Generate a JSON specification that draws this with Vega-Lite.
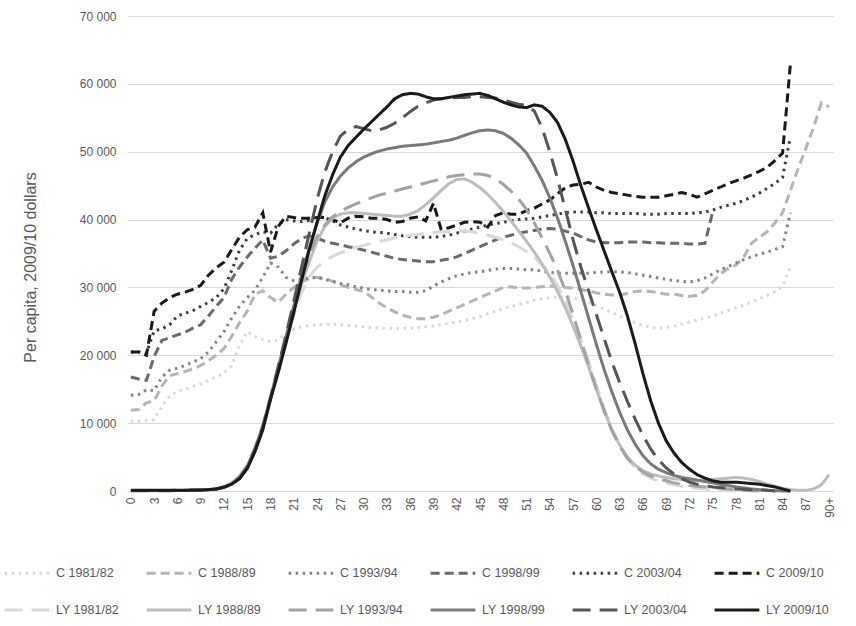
{
"$schema": "https://vega.github.io/schema/vega-lite/v6.json",
"width": 706, "height": 475,
"autosize": {"type": "none"},
"padding": {"left": 127, "top": 16, "right": 23, "bottom": 135},
"background": "white",
"config": {"view": {"stroke": null}, "font": "Liberation Sans"},
"data": {"values": [
{"s":"C 1981/82","a":0,"v":10300},{"s":"C 1981/82","a":1,"v":10300},{"s":"C 1981/82","a":2,"v":10400},{"s":"C 1981/82","a":3,"v":10500},{"s":"C 1981/82","a":4,"v":12500},{"s":"C 1981/82","a":5,"v":14000},{"s":"C 1981/82","a":6,"v":14700},{"s":"C 1981/82","a":7,"v":15000},{"s":"C 1981/82","a":8,"v":15400},{"s":"C 1981/82","a":9,"v":15800},
{"s":"C 1981/82","a":10,"v":16300},{"s":"C 1981/82","a":11,"v":16800},{"s":"C 1981/82","a":12,"v":17400},{"s":"C 1981/82","a":13,"v":18500},{"s":"C 1981/82","a":14,"v":21500},{"s":"C 1981/82","a":15,"v":23500},{"s":"C 1981/82","a":16,"v":22800},{"s":"C 1981/82","a":17,"v":22300},{"s":"C 1981/82","a":18,"v":22000},{"s":"C 1981/82","a":19,"v":22300},
{"s":"C 1981/82","a":20,"v":23200},{"s":"C 1981/82","a":21,"v":23800},{"s":"C 1981/82","a":22,"v":24200},{"s":"C 1981/82","a":23,"v":24400},{"s":"C 1981/82","a":24,"v":24500},{"s":"C 1981/82","a":25,"v":24500},{"s":"C 1981/82","a":26,"v":24600},{"s":"C 1981/82","a":27,"v":24500},{"s":"C 1981/82","a":28,"v":24400},{"s":"C 1981/82","a":29,"v":24300},
{"s":"C 1981/82","a":30,"v":24200},{"s":"C 1981/82","a":31,"v":24100},{"s":"C 1981/82","a":32,"v":24000},{"s":"C 1981/82","a":33,"v":24000},{"s":"C 1981/82","a":34,"v":23900},{"s":"C 1981/82","a":35,"v":24000},{"s":"C 1981/82","a":36,"v":24000},{"s":"C 1981/82","a":37,"v":24100},{"s":"C 1981/82","a":38,"v":24200},{"s":"C 1981/82","a":39,"v":24300},
{"s":"C 1981/82","a":40,"v":24500},{"s":"C 1981/82","a":41,"v":24700},{"s":"C 1981/82","a":42,"v":24900},{"s":"C 1981/82","a":43,"v":25100},{"s":"C 1981/82","a":44,"v":25400},{"s":"C 1981/82","a":45,"v":25700},{"s":"C 1981/82","a":46,"v":26100},{"s":"C 1981/82","a":47,"v":26500},{"s":"C 1981/82","a":48,"v":26900},{"s":"C 1981/82","a":49,"v":27200},
{"s":"C 1981/82","a":50,"v":27500},{"s":"C 1981/82","a":51,"v":27800},{"s":"C 1981/82","a":52,"v":28100},{"s":"C 1981/82","a":53,"v":28300},{"s":"C 1981/82","a":54,"v":28500},{"s":"C 1981/82","a":55,"v":28600},{"s":"C 1981/82","a":56,"v":28600},{"s":"C 1981/82","a":57,"v":28500},{"s":"C 1981/82","a":58,"v":28200},{"s":"C 1981/82","a":59,"v":27800},
{"s":"C 1981/82","a":60,"v":27300},{"s":"C 1981/82","a":61,"v":26800},{"s":"C 1981/82","a":62,"v":26300},{"s":"C 1981/82","a":63,"v":25800},{"s":"C 1981/82","a":64,"v":25300},{"s":"C 1981/82","a":65,"v":24800},{"s":"C 1981/82","a":66,"v":24400},{"s":"C 1981/82","a":67,"v":24100},{"s":"C 1981/82","a":68,"v":24000},{"s":"C 1981/82","a":69,"v":24100},
{"s":"C 1981/82","a":70,"v":24300},{"s":"C 1981/82","a":71,"v":24600},{"s":"C 1981/82","a":72,"v":24900},{"s":"C 1981/82","a":73,"v":25200},{"s":"C 1981/82","a":74,"v":25500},{"s":"C 1981/82","a":75,"v":25800},{"s":"C 1981/82","a":76,"v":26200},{"s":"C 1981/82","a":77,"v":26600},{"s":"C 1981/82","a":78,"v":27000},{"s":"C 1981/82","a":79,"v":27400},
{"s":"C 1981/82","a":80,"v":27900},{"s":"C 1981/82","a":81,"v":28300},{"s":"C 1981/82","a":82,"v":28800},{"s":"C 1981/82","a":83,"v":29400},{"s":"C 1981/82","a":84,"v":30200},{"s":"C 1981/82","a":85,"v":33000},
{"s":"C 1988/89","a":0,"v":11900},{"s":"C 1988/89","a":1,"v":12000},{"s":"C 1988/89","a":2,"v":13000},{"s":"C 1988/89","a":3,"v":13300},{"s":"C 1988/89","a":4,"v":15500},{"s":"C 1988/89","a":5,"v":17000},{"s":"C 1988/89","a":6,"v":17300},{"s":"C 1988/89","a":7,"v":17600},{"s":"C 1988/89","a":8,"v":18000},{"s":"C 1988/89","a":9,"v":18500},
{"s":"C 1988/89","a":10,"v":19200},{"s":"C 1988/89","a":11,"v":20000},{"s":"C 1988/89","a":12,"v":21000},{"s":"C 1988/89","a":13,"v":22800},{"s":"C 1988/89","a":14,"v":24800},{"s":"C 1988/89","a":15,"v":26500},{"s":"C 1988/89","a":16,"v":29000},{"s":"C 1988/89","a":17,"v":29500},{"s":"C 1988/89","a":18,"v":28500},{"s":"C 1988/89","a":19,"v":27800},
{"s":"C 1988/89","a":20,"v":29000},{"s":"C 1988/89","a":21,"v":30000},{"s":"C 1988/89","a":22,"v":30800},{"s":"C 1988/89","a":23,"v":31300},{"s":"C 1988/89","a":24,"v":31500},{"s":"C 1988/89","a":25,"v":31300},{"s":"C 1988/89","a":26,"v":30900},{"s":"C 1988/89","a":27,"v":30400},{"s":"C 1988/89","a":28,"v":30000},{"s":"C 1988/89","a":29,"v":29700},
{"s":"C 1988/89","a":30,"v":29400},{"s":"C 1988/89","a":31,"v":28600},{"s":"C 1988/89","a":32,"v":27700},{"s":"C 1988/89","a":33,"v":27000},{"s":"C 1988/89","a":34,"v":26400},{"s":"C 1988/89","a":35,"v":25900},{"s":"C 1988/89","a":36,"v":25600},{"s":"C 1988/89","a":37,"v":25400},{"s":"C 1988/89","a":38,"v":25400},{"s":"C 1988/89","a":39,"v":25600},
{"s":"C 1988/89","a":40,"v":26000},{"s":"C 1988/89","a":41,"v":26500},{"s":"C 1988/89","a":42,"v":27000},{"s":"C 1988/89","a":43,"v":27500},{"s":"C 1988/89","a":44,"v":28000},{"s":"C 1988/89","a":45,"v":28500},{"s":"C 1988/89","a":46,"v":29000},{"s":"C 1988/89","a":47,"v":29500},{"s":"C 1988/89","a":48,"v":30000},{"s":"C 1988/89","a":49,"v":30100},
{"s":"C 1988/89","a":50,"v":29900},{"s":"C 1988/89","a":51,"v":29900},{"s":"C 1988/89","a":52,"v":30000},{"s":"C 1988/89","a":53,"v":30100},{"s":"C 1988/89","a":54,"v":30200},{"s":"C 1988/89","a":55,"v":30100},{"s":"C 1988/89","a":56,"v":30000},{"s":"C 1988/89","a":57,"v":29900},{"s":"C 1988/89","a":58,"v":29700},{"s":"C 1988/89","a":59,"v":29500},
{"s":"C 1988/89","a":60,"v":29200},{"s":"C 1988/89","a":61,"v":29000},{"s":"C 1988/89","a":62,"v":28900},{"s":"C 1988/89","a":63,"v":28900},{"s":"C 1988/89","a":64,"v":29100},{"s":"C 1988/89","a":65,"v":29400},{"s":"C 1988/89","a":66,"v":29500},{"s":"C 1988/89","a":67,"v":29400},{"s":"C 1988/89","a":68,"v":29200},{"s":"C 1988/89","a":69,"v":29000},
{"s":"C 1988/89","a":70,"v":29000},{"s":"C 1988/89","a":71,"v":28800},{"s":"C 1988/89","a":72,"v":28700},{"s":"C 1988/89","a":73,"v":28800},{"s":"C 1988/89","a":74,"v":29500},{"s":"C 1988/89","a":75,"v":30800},{"s":"C 1988/89","a":76,"v":32000},{"s":"C 1988/89","a":77,"v":32800},{"s":"C 1988/89","a":78,"v":33300},{"s":"C 1988/89","a":79,"v":34500},
{"s":"C 1988/89","a":80,"v":36500},{"s":"C 1988/89","a":81,"v":37400},{"s":"C 1988/89","a":82,"v":38200},{"s":"C 1988/89","a":83,"v":39500},{"s":"C 1988/89","a":84,"v":41000},{"s":"C 1988/89","a":85,"v":44300},{"s":"C 1988/89","a":86,"v":47500},{"s":"C 1988/89","a":87,"v":50500},{"s":"C 1988/89","a":88,"v":53600},{"s":"C 1988/89","a":89,"v":57200},{"s":"C 1988/89","a":90,"v":56600},
{"s":"C 1993/94","a":0,"v":14100},{"s":"C 1993/94","a":1,"v":14200},{"s":"C 1993/94","a":2,"v":14900},{"s":"C 1993/94","a":3,"v":14800},{"s":"C 1993/94","a":4,"v":16800},{"s":"C 1993/94","a":5,"v":17800},{"s":"C 1993/94","a":6,"v":18100},{"s":"C 1993/94","a":7,"v":18500},{"s":"C 1993/94","a":8,"v":19000},{"s":"C 1993/94","a":9,"v":19500},
{"s":"C 1993/94","a":10,"v":20500},{"s":"C 1993/94","a":11,"v":22000},{"s":"C 1993/94","a":12,"v":23500},{"s":"C 1993/94","a":13,"v":25500},{"s":"C 1993/94","a":14,"v":27200},{"s":"C 1993/94","a":15,"v":28500},{"s":"C 1993/94","a":16,"v":29600},{"s":"C 1993/94","a":17,"v":31500},{"s":"C 1993/94","a":18,"v":33600},{"s":"C 1993/94","a":19,"v":33000},
{"s":"C 1993/94","a":20,"v":31500},{"s":"C 1993/94","a":21,"v":31000},{"s":"C 1993/94","a":22,"v":31200},{"s":"C 1993/94","a":23,"v":31400},{"s":"C 1993/94","a":24,"v":31500},{"s":"C 1993/94","a":25,"v":31200},{"s":"C 1993/94","a":26,"v":30900},{"s":"C 1993/94","a":27,"v":30600},{"s":"C 1993/94","a":28,"v":30400},{"s":"C 1993/94","a":29,"v":30100},
{"s":"C 1993/94","a":30,"v":29900},{"s":"C 1993/94","a":31,"v":29700},{"s":"C 1993/94","a":32,"v":29600},{"s":"C 1993/94","a":33,"v":29500},{"s":"C 1993/94","a":34,"v":29400},{"s":"C 1993/94","a":35,"v":29400},{"s":"C 1993/94","a":36,"v":29300},{"s":"C 1993/94","a":37,"v":29300},{"s":"C 1993/94","a":38,"v":29500},{"s":"C 1993/94","a":39,"v":30200},
{"s":"C 1993/94","a":40,"v":30800},{"s":"C 1993/94","a":41,"v":31300},{"s":"C 1993/94","a":42,"v":31700},{"s":"C 1993/94","a":43,"v":32000},{"s":"C 1993/94","a":44,"v":32200},{"s":"C 1993/94","a":45,"v":32300},{"s":"C 1993/94","a":46,"v":32500},{"s":"C 1993/94","a":47,"v":32700},{"s":"C 1993/94","a":48,"v":32800},{"s":"C 1993/94","a":49,"v":32800},
{"s":"C 1993/94","a":50,"v":32700},{"s":"C 1993/94","a":51,"v":32600},{"s":"C 1993/94","a":52,"v":32600},{"s":"C 1993/94","a":53,"v":32400},{"s":"C 1993/94","a":54,"v":32200},{"s":"C 1993/94","a":55,"v":32100},{"s":"C 1993/94","a":56,"v":32100},{"s":"C 1993/94","a":57,"v":32100},{"s":"C 1993/94","a":58,"v":32100},{"s":"C 1993/94","a":59,"v":32100},
{"s":"C 1993/94","a":60,"v":32200},{"s":"C 1993/94","a":61,"v":32300},{"s":"C 1993/94","a":62,"v":32300},{"s":"C 1993/94","a":63,"v":32300},{"s":"C 1993/94","a":64,"v":32200},{"s":"C 1993/94","a":65,"v":32000},{"s":"C 1993/94","a":66,"v":31800},{"s":"C 1993/94","a":67,"v":31600},{"s":"C 1993/94","a":68,"v":31400},{"s":"C 1993/94","a":69,"v":31200},
{"s":"C 1993/94","a":70,"v":31000},{"s":"C 1993/94","a":71,"v":30900},{"s":"C 1993/94","a":72,"v":30800},{"s":"C 1993/94","a":73,"v":31000},{"s":"C 1993/94","a":74,"v":31400},{"s":"C 1993/94","a":75,"v":32000},{"s":"C 1993/94","a":76,"v":32600},{"s":"C 1993/94","a":77,"v":33100},{"s":"C 1993/94","a":78,"v":33600},{"s":"C 1993/94","a":79,"v":34100},
{"s":"C 1993/94","a":80,"v":34500},{"s":"C 1993/94","a":81,"v":34900},{"s":"C 1993/94","a":82,"v":35200},{"s":"C 1993/94","a":83,"v":35600},{"s":"C 1993/94","a":84,"v":36000},{"s":"C 1993/94","a":85,"v":41000},
{"s":"C 1998/99","a":0,"v":16800},{"s":"C 1998/99","a":1,"v":16500},{"s":"C 1998/99","a":2,"v":16300},{"s":"C 1998/99","a":3,"v":19800},{"s":"C 1998/99","a":4,"v":22200},{"s":"C 1998/99","a":5,"v":22600},{"s":"C 1998/99","a":6,"v":23000},{"s":"C 1998/99","a":7,"v":23400},{"s":"C 1998/99","a":8,"v":24000},{"s":"C 1998/99","a":9,"v":24500},
{"s":"C 1998/99","a":10,"v":25800},{"s":"C 1998/99","a":11,"v":27200},{"s":"C 1998/99","a":12,"v":28500},{"s":"C 1998/99","a":13,"v":31200},{"s":"C 1998/99","a":14,"v":33000},{"s":"C 1998/99","a":15,"v":34500},{"s":"C 1998/99","a":16,"v":35800},{"s":"C 1998/99","a":17,"v":37000},{"s":"C 1998/99","a":18,"v":34300},{"s":"C 1998/99","a":19,"v":34600},
{"s":"C 1998/99","a":20,"v":35400},{"s":"C 1998/99","a":21,"v":36400},{"s":"C 1998/99","a":22,"v":37200},{"s":"C 1998/99","a":23,"v":37600},{"s":"C 1998/99","a":24,"v":37300},{"s":"C 1998/99","a":25,"v":36800},{"s":"C 1998/99","a":26,"v":36500},{"s":"C 1998/99","a":27,"v":36300},{"s":"C 1998/99","a":28,"v":36000},{"s":"C 1998/99","a":29,"v":35800},
{"s":"C 1998/99","a":30,"v":35500},{"s":"C 1998/99","a":31,"v":35200},{"s":"C 1998/99","a":32,"v":34900},{"s":"C 1998/99","a":33,"v":34600},{"s":"C 1998/99","a":34,"v":34300},{"s":"C 1998/99","a":35,"v":34100},{"s":"C 1998/99","a":36,"v":34000},{"s":"C 1998/99","a":37,"v":33900},{"s":"C 1998/99","a":38,"v":33800},{"s":"C 1998/99","a":39,"v":33800},
{"s":"C 1998/99","a":40,"v":34000},{"s":"C 1998/99","a":41,"v":34200},{"s":"C 1998/99","a":42,"v":34500},{"s":"C 1998/99","a":43,"v":35000},{"s":"C 1998/99","a":44,"v":35500},{"s":"C 1998/99","a":45,"v":36000},{"s":"C 1998/99","a":46,"v":36500},{"s":"C 1998/99","a":47,"v":37000},{"s":"C 1998/99","a":48,"v":37400},{"s":"C 1998/99","a":49,"v":37700},
{"s":"C 1998/99","a":50,"v":38000},{"s":"C 1998/99","a":51,"v":38200},{"s":"C 1998/99","a":52,"v":38400},{"s":"C 1998/99","a":53,"v":38600},{"s":"C 1998/99","a":54,"v":38700},{"s":"C 1998/99","a":55,"v":38600},{"s":"C 1998/99","a":56,"v":38300},{"s":"C 1998/99","a":57,"v":38000},{"s":"C 1998/99","a":58,"v":37500},{"s":"C 1998/99","a":59,"v":37000},
{"s":"C 1998/99","a":60,"v":36700},{"s":"C 1998/99","a":61,"v":36600},{"s":"C 1998/99","a":62,"v":36600},{"s":"C 1998/99","a":63,"v":36600},{"s":"C 1998/99","a":64,"v":36700},{"s":"C 1998/99","a":65,"v":36700},{"s":"C 1998/99","a":66,"v":36700},{"s":"C 1998/99","a":67,"v":36600},{"s":"C 1998/99","a":68,"v":36600},{"s":"C 1998/99","a":69,"v":36500},
{"s":"C 1998/99","a":70,"v":36500},{"s":"C 1998/99","a":71,"v":36500},{"s":"C 1998/99","a":72,"v":36400},{"s":"C 1998/99","a":73,"v":36400},{"s":"C 1998/99","a":74,"v":36500},{"s":"C 1998/99","a":75,"v":41200},
{"s":"C 2003/04","a":0,"v":20500},{"s":"C 2003/04","a":1,"v":20500},{"s":"C 2003/04","a":2,"v":20300},{"s":"C 2003/04","a":3,"v":23600},{"s":"C 2003/04","a":4,"v":23900},{"s":"C 2003/04","a":5,"v":24500},{"s":"C 2003/04","a":6,"v":25800},{"s":"C 2003/04","a":7,"v":26200},{"s":"C 2003/04","a":8,"v":26600},{"s":"C 2003/04","a":9,"v":27200},
{"s":"C 2003/04","a":10,"v":27800},{"s":"C 2003/04","a":11,"v":28500},{"s":"C 2003/04","a":12,"v":29800},{"s":"C 2003/04","a":13,"v":32500},{"s":"C 2003/04","a":14,"v":35500},{"s":"C 2003/04","a":15,"v":37200},{"s":"C 2003/04","a":16,"v":37800},{"s":"C 2003/04","a":17,"v":38200},{"s":"C 2003/04","a":18,"v":38000},{"s":"C 2003/04","a":19,"v":39300},
{"s":"C 2003/04","a":20,"v":40000},{"s":"C 2003/04","a":21,"v":39800},{"s":"C 2003/04","a":22,"v":39700},{"s":"C 2003/04","a":23,"v":39900},{"s":"C 2003/04","a":24,"v":40500},{"s":"C 2003/04","a":25,"v":40300},{"s":"C 2003/04","a":26,"v":39800},{"s":"C 2003/04","a":27,"v":39200},{"s":"C 2003/04","a":28,"v":38900},{"s":"C 2003/04","a":29,"v":38600},
{"s":"C 2003/04","a":30,"v":38400},{"s":"C 2003/04","a":31,"v":38200},{"s":"C 2003/04","a":32,"v":38100},{"s":"C 2003/04","a":33,"v":38000},{"s":"C 2003/04","a":34,"v":37800},{"s":"C 2003/04","a":35,"v":37600},{"s":"C 2003/04","a":36,"v":37500},{"s":"C 2003/04","a":37,"v":37400},{"s":"C 2003/04","a":38,"v":37400},{"s":"C 2003/04","a":39,"v":37400},
{"s":"C 2003/04","a":40,"v":37500},{"s":"C 2003/04","a":41,"v":37700},{"s":"C 2003/04","a":42,"v":38000},{"s":"C 2003/04","a":43,"v":38300},{"s":"C 2003/04","a":44,"v":38600},{"s":"C 2003/04","a":45,"v":38900},{"s":"C 2003/04","a":46,"v":39200},{"s":"C 2003/04","a":47,"v":39400},{"s":"C 2003/04","a":48,"v":39600},{"s":"C 2003/04","a":49,"v":39800},
{"s":"C 2003/04","a":50,"v":40000},{"s":"C 2003/04","a":51,"v":40100},{"s":"C 2003/04","a":52,"v":40200},{"s":"C 2003/04","a":53,"v":40400},{"s":"C 2003/04","a":54,"v":40600},{"s":"C 2003/04","a":55,"v":40800},{"s":"C 2003/04","a":56,"v":41000},{"s":"C 2003/04","a":57,"v":41100},{"s":"C 2003/04","a":58,"v":41100},{"s":"C 2003/04","a":59,"v":41100},
{"s":"C 2003/04","a":60,"v":41000},{"s":"C 2003/04","a":61,"v":41000},{"s":"C 2003/04","a":62,"v":40900},{"s":"C 2003/04","a":63,"v":40900},{"s":"C 2003/04","a":64,"v":40900},{"s":"C 2003/04","a":65,"v":40900},{"s":"C 2003/04","a":66,"v":40800},{"s":"C 2003/04","a":67,"v":40800},{"s":"C 2003/04","a":68,"v":40800},{"s":"C 2003/04","a":69,"v":40900},
{"s":"C 2003/04","a":70,"v":40900},{"s":"C 2003/04","a":71,"v":40900},{"s":"C 2003/04","a":72,"v":40900},{"s":"C 2003/04","a":73,"v":41000},{"s":"C 2003/04","a":74,"v":41100},{"s":"C 2003/04","a":75,"v":41400},{"s":"C 2003/04","a":76,"v":41800},{"s":"C 2003/04","a":77,"v":42100},{"s":"C 2003/04","a":78,"v":42400},{"s":"C 2003/04","a":79,"v":42800},
{"s":"C 2003/04","a":80,"v":43300},{"s":"C 2003/04","a":81,"v":43900},{"s":"C 2003/04","a":82,"v":44600},{"s":"C 2003/04","a":83,"v":45300},{"s":"C 2003/04","a":84,"v":46200},{"s":"C 2003/04","a":85,"v":52200},
{"s":"C 2009/10","a":0,"v":20500},{"s":"C 2009/10","a":1,"v":20500},{"s":"C 2009/10","a":2,"v":20000},{"s":"C 2009/10","a":3,"v":26500},{"s":"C 2009/10","a":4,"v":27700},{"s":"C 2009/10","a":5,"v":28500},{"s":"C 2009/10","a":6,"v":29000},{"s":"C 2009/10","a":7,"v":29300},{"s":"C 2009/10","a":8,"v":29700},{"s":"C 2009/10","a":9,"v":30300},
{"s":"C 2009/10","a":10,"v":31800},{"s":"C 2009/10","a":11,"v":32900},{"s":"C 2009/10","a":12,"v":33700},{"s":"C 2009/10","a":13,"v":35600},{"s":"C 2009/10","a":14,"v":37400},{"s":"C 2009/10","a":15,"v":38500},{"s":"C 2009/10","a":16,"v":38900},{"s":"C 2009/10","a":17,"v":41000},{"s":"C 2009/10","a":18,"v":35200},{"s":"C 2009/10","a":19,"v":39000},
{"s":"C 2009/10","a":20,"v":40500},{"s":"C 2009/10","a":21,"v":40300},{"s":"C 2009/10","a":22,"v":40200},{"s":"C 2009/10","a":23,"v":40200},{"s":"C 2009/10","a":24,"v":40300},{"s":"C 2009/10","a":25,"v":40300},{"s":"C 2009/10","a":26,"v":40000},{"s":"C 2009/10","a":27,"v":39500},{"s":"C 2009/10","a":28,"v":40200},{"s":"C 2009/10","a":29,"v":40500},
{"s":"C 2009/10","a":30,"v":40400},{"s":"C 2009/10","a":31,"v":40200},{"s":"C 2009/10","a":32,"v":40200},{"s":"C 2009/10","a":33,"v":40000},{"s":"C 2009/10","a":34,"v":39600},{"s":"C 2009/10","a":35,"v":39700},{"s":"C 2009/10","a":36,"v":40200},{"s":"C 2009/10","a":37,"v":40400},{"s":"C 2009/10","a":38,"v":39800},{"s":"C 2009/10","a":39,"v":42400},
{"s":"C 2009/10","a":40,"v":38500},{"s":"C 2009/10","a":41,"v":38800},{"s":"C 2009/10","a":42,"v":39200},{"s":"C 2009/10","a":43,"v":39600},{"s":"C 2009/10","a":44,"v":39700},{"s":"C 2009/10","a":45,"v":39600},{"s":"C 2009/10","a":46,"v":38900},{"s":"C 2009/10","a":47,"v":40600},{"s":"C 2009/10","a":48,"v":41000},{"s":"C 2009/10","a":49,"v":40800},
{"s":"C 2009/10","a":50,"v":40800},{"s":"C 2009/10","a":51,"v":41300},{"s":"C 2009/10","a":52,"v":41700},{"s":"C 2009/10","a":53,"v":42300},{"s":"C 2009/10","a":54,"v":42900},{"s":"C 2009/10","a":55,"v":43800},{"s":"C 2009/10","a":56,"v":44700},{"s":"C 2009/10","a":57,"v":45100},{"s":"C 2009/10","a":58,"v":45200},{"s":"C 2009/10","a":59,"v":45500},
{"s":"C 2009/10","a":60,"v":44800},{"s":"C 2009/10","a":61,"v":44300},{"s":"C 2009/10","a":62,"v":44000},{"s":"C 2009/10","a":63,"v":43800},{"s":"C 2009/10","a":64,"v":43600},{"s":"C 2009/10","a":65,"v":43400},{"s":"C 2009/10","a":66,"v":43300},{"s":"C 2009/10","a":67,"v":43300},{"s":"C 2009/10","a":68,"v":43300},{"s":"C 2009/10","a":69,"v":43500},
{"s":"C 2009/10","a":70,"v":43700},{"s":"C 2009/10","a":71,"v":44000},{"s":"C 2009/10","a":72,"v":43700},{"s":"C 2009/10","a":73,"v":43300},{"s":"C 2009/10","a":74,"v":43800},{"s":"C 2009/10","a":75,"v":44300},{"s":"C 2009/10","a":76,"v":44800},{"s":"C 2009/10","a":77,"v":45300},{"s":"C 2009/10","a":78,"v":45700},{"s":"C 2009/10","a":79,"v":46100},
{"s":"C 2009/10","a":80,"v":46600},{"s":"C 2009/10","a":81,"v":47100},{"s":"C 2009/10","a":82,"v":47700},{"s":"C 2009/10","a":83,"v":48700},{"s":"C 2009/10","a":84,"v":49800},{"s":"C 2009/10","a":85,"v":62800},
{"s":"LY 1981/82","a":0,"v":50},{"s":"LY 1981/82","a":1,"v":50},{"s":"LY 1981/82","a":2,"v":50},{"s":"LY 1981/82","a":3,"v":50},{"s":"LY 1981/82","a":4,"v":50},{"s":"LY 1981/82","a":5,"v":50},{"s":"LY 1981/82","a":6,"v":60},{"s":"LY 1981/82","a":7,"v":70},{"s":"LY 1981/82","a":8,"v":80},{"s":"LY 1981/82","a":9,"v":100},
{"s":"LY 1981/82","a":10,"v":150},{"s":"LY 1981/82","a":11,"v":250},{"s":"LY 1981/82","a":12,"v":600},{"s":"LY 1981/82","a":13,"v":1300},{"s":"LY 1981/82","a":14,"v":2300},{"s":"LY 1981/82","a":15,"v":3900},{"s":"LY 1981/82","a":16,"v":6500},{"s":"LY 1981/82","a":17,"v":9800},{"s":"LY 1981/82","a":18,"v":14000},{"s":"LY 1981/82","a":19,"v":18500},
{"s":"LY 1981/82","a":20,"v":22500},{"s":"LY 1981/82","a":21,"v":26000},{"s":"LY 1981/82","a":22,"v":29200},{"s":"LY 1981/82","a":23,"v":31600},{"s":"LY 1981/82","a":24,"v":33000},{"s":"LY 1981/82","a":25,"v":33900},{"s":"LY 1981/82","a":26,"v":34600},{"s":"LY 1981/82","a":27,"v":35100},{"s":"LY 1981/82","a":28,"v":35500},{"s":"LY 1981/82","a":29,"v":35900},
{"s":"LY 1981/82","a":30,"v":36200},{"s":"LY 1981/82","a":31,"v":36500},{"s":"LY 1981/82","a":32,"v":36800},{"s":"LY 1981/82","a":33,"v":37000},{"s":"LY 1981/82","a":34,"v":37300},{"s":"LY 1981/82","a":35,"v":37500},{"s":"LY 1981/82","a":36,"v":37700},{"s":"LY 1981/82","a":37,"v":37800},{"s":"LY 1981/82","a":38,"v":38000},{"s":"LY 1981/82","a":39,"v":38100},
{"s":"LY 1981/82","a":40,"v":38200},{"s":"LY 1981/82","a":41,"v":38200},{"s":"LY 1981/82","a":42,"v":38300},{"s":"LY 1981/82","a":43,"v":38300},{"s":"LY 1981/82","a":44,"v":38200},{"s":"LY 1981/82","a":45,"v":38000},{"s":"LY 1981/82","a":46,"v":37700},{"s":"LY 1981/82","a":47,"v":37400},{"s":"LY 1981/82","a":48,"v":37000},{"s":"LY 1981/82","a":49,"v":36600},
{"s":"LY 1981/82","a":50,"v":36000},{"s":"LY 1981/82","a":51,"v":35300},{"s":"LY 1981/82","a":52,"v":34500},{"s":"LY 1981/82","a":53,"v":33300},{"s":"LY 1981/82","a":54,"v":32000},{"s":"LY 1981/82","a":55,"v":30300},{"s":"LY 1981/82","a":56,"v":28000},{"s":"LY 1981/82","a":57,"v":25300},{"s":"LY 1981/82","a":58,"v":22300},{"s":"LY 1981/82","a":59,"v":19000},
{"s":"LY 1981/82","a":60,"v":15600},{"s":"LY 1981/82","a":61,"v":12200},{"s":"LY 1981/82","a":62,"v":9200},{"s":"LY 1981/82","a":63,"v":6700},{"s":"LY 1981/82","a":64,"v":4800},{"s":"LY 1981/82","a":65,"v":3400},{"s":"LY 1981/82","a":66,"v":2500},{"s":"LY 1981/82","a":67,"v":1900},{"s":"LY 1981/82","a":68,"v":1500},{"s":"LY 1981/82","a":69,"v":1200},
{"s":"LY 1981/82","a":70,"v":900},{"s":"LY 1981/82","a":71,"v":700},{"s":"LY 1981/82","a":72,"v":500},{"s":"LY 1981/82","a":73,"v":400},{"s":"LY 1981/82","a":74,"v":300},{"s":"LY 1981/82","a":75,"v":200},{"s":"LY 1981/82","a":76,"v":100},{"s":"LY 1981/82","a":77,"v":50},{"s":"LY 1981/82","a":78,"v":0},
{"s":"LY 1988/89","a":0,"v":50},{"s":"LY 1988/89","a":1,"v":50},{"s":"LY 1988/89","a":2,"v":50},{"s":"LY 1988/89","a":3,"v":50},{"s":"LY 1988/89","a":4,"v":50},{"s":"LY 1988/89","a":5,"v":50},{"s":"LY 1988/89","a":6,"v":60},{"s":"LY 1988/89","a":7,"v":70},{"s":"LY 1988/89","a":8,"v":80},{"s":"LY 1988/89","a":9,"v":100},
{"s":"LY 1988/89","a":10,"v":150},{"s":"LY 1988/89","a":11,"v":250},{"s":"LY 1988/89","a":12,"v":500},{"s":"LY 1988/89","a":13,"v":1200},{"s":"LY 1988/89","a":14,"v":2100},{"s":"LY 1988/89","a":15,"v":3700},{"s":"LY 1988/89","a":16,"v":6300},{"s":"LY 1988/89","a":17,"v":9600},{"s":"LY 1988/89","a":18,"v":13800},{"s":"LY 1988/89","a":19,"v":18300},
{"s":"LY 1988/89","a":20,"v":22800},{"s":"LY 1988/89","a":21,"v":26800},{"s":"LY 1988/89","a":22,"v":30500},{"s":"LY 1988/89","a":23,"v":33800},{"s":"LY 1988/89","a":24,"v":36800},{"s":"LY 1988/89","a":25,"v":39000},{"s":"LY 1988/89","a":26,"v":40200},{"s":"LY 1988/89","a":27,"v":40800},{"s":"LY 1988/89","a":28,"v":41000},{"s":"LY 1988/89","a":29,"v":41000},
{"s":"LY 1988/89","a":30,"v":40900},{"s":"LY 1988/89","a":31,"v":40800},{"s":"LY 1988/89","a":32,"v":40700},{"s":"LY 1988/89","a":33,"v":40600},{"s":"LY 1988/89","a":34,"v":40500},{"s":"LY 1988/89","a":35,"v":40500},{"s":"LY 1988/89","a":36,"v":40800},{"s":"LY 1988/89","a":37,"v":41300},{"s":"LY 1988/89","a":38,"v":42200},{"s":"LY 1988/89","a":39,"v":43200},
{"s":"LY 1988/89","a":40,"v":44300},{"s":"LY 1988/89","a":41,"v":45300},{"s":"LY 1988/89","a":42,"v":45900},{"s":"LY 1988/89","a":43,"v":46000},{"s":"LY 1988/89","a":44,"v":45500},{"s":"LY 1988/89","a":45,"v":44700},{"s":"LY 1988/89","a":46,"v":43700},{"s":"LY 1988/89","a":47,"v":42500},{"s":"LY 1988/89","a":48,"v":41200},{"s":"LY 1988/89","a":49,"v":39800},
{"s":"LY 1988/89","a":50,"v":38300},{"s":"LY 1988/89","a":51,"v":36800},{"s":"LY 1988/89","a":52,"v":35200},{"s":"LY 1988/89","a":53,"v":33500},{"s":"LY 1988/89","a":54,"v":31500},{"s":"LY 1988/89","a":55,"v":29400},{"s":"LY 1988/89","a":56,"v":27000},{"s":"LY 1988/89","a":57,"v":24300},{"s":"LY 1988/89","a":58,"v":21400},{"s":"LY 1988/89","a":59,"v":18300},
{"s":"LY 1988/89","a":60,"v":15000},{"s":"LY 1988/89","a":61,"v":11800},{"s":"LY 1988/89","a":62,"v":9000},{"s":"LY 1988/89","a":63,"v":6800},{"s":"LY 1988/89","a":64,"v":5000},{"s":"LY 1988/89","a":65,"v":3800},{"s":"LY 1988/89","a":66,"v":3000},{"s":"LY 1988/89","a":67,"v":2500},{"s":"LY 1988/89","a":68,"v":2200},{"s":"LY 1988/89","a":69,"v":2000},
{"s":"LY 1988/89","a":70,"v":1800},{"s":"LY 1988/89","a":71,"v":1700},{"s":"LY 1988/89","a":72,"v":1600},{"s":"LY 1988/89","a":73,"v":1600},{"s":"LY 1988/89","a":74,"v":1600},{"s":"LY 1988/89","a":75,"v":1700},{"s":"LY 1988/89","a":76,"v":1800},{"s":"LY 1988/89","a":77,"v":1900},{"s":"LY 1988/89","a":78,"v":2000},{"s":"LY 1988/89","a":79,"v":1900},
{"s":"LY 1988/89","a":80,"v":1700},{"s":"LY 1988/89","a":81,"v":1400},{"s":"LY 1988/89","a":82,"v":1000},{"s":"LY 1988/89","a":83,"v":700},{"s":"LY 1988/89","a":84,"v":400},{"s":"LY 1988/89","a":85,"v":200},{"s":"LY 1988/89","a":86,"v":100},{"s":"LY 1988/89","a":87,"v":100},{"s":"LY 1988/89","a":88,"v":300},{"s":"LY 1988/89","a":89,"v":900},{"s":"LY 1988/89","a":90,"v":2400},
{"s":"LY 1993/94","a":0,"v":50},{"s":"LY 1993/94","a":1,"v":50},{"s":"LY 1993/94","a":2,"v":50},{"s":"LY 1993/94","a":3,"v":50},{"s":"LY 1993/94","a":4,"v":50},{"s":"LY 1993/94","a":5,"v":50},{"s":"LY 1993/94","a":6,"v":60},{"s":"LY 1993/94","a":7,"v":70},{"s":"LY 1993/94","a":8,"v":80},{"s":"LY 1993/94","a":9,"v":100},
{"s":"LY 1993/94","a":10,"v":150},{"s":"LY 1993/94","a":11,"v":250},{"s":"LY 1993/94","a":12,"v":500},{"s":"LY 1993/94","a":13,"v":1000},{"s":"LY 1993/94","a":14,"v":1900},{"s":"LY 1993/94","a":15,"v":3500},{"s":"LY 1993/94","a":16,"v":6000},{"s":"LY 1993/94","a":17,"v":9300},{"s":"LY 1993/94","a":18,"v":13500},{"s":"LY 1993/94","a":19,"v":18000},
{"s":"LY 1993/94","a":20,"v":22500},{"s":"LY 1993/94","a":21,"v":27000},{"s":"LY 1993/94","a":22,"v":31200},{"s":"LY 1993/94","a":23,"v":34800},{"s":"LY 1993/94","a":24,"v":37500},{"s":"LY 1993/94","a":25,"v":39200},{"s":"LY 1993/94","a":26,"v":40400},{"s":"LY 1993/94","a":27,"v":41200},{"s":"LY 1993/94","a":28,"v":41800},{"s":"LY 1993/94","a":29,"v":42300},
{"s":"LY 1993/94","a":30,"v":42800},{"s":"LY 1993/94","a":31,"v":43200},{"s":"LY 1993/94","a":32,"v":43600},{"s":"LY 1993/94","a":33,"v":43900},{"s":"LY 1993/94","a":34,"v":44200},{"s":"LY 1993/94","a":35,"v":44500},{"s":"LY 1993/94","a":36,"v":44800},{"s":"LY 1993/94","a":37,"v":45100},{"s":"LY 1993/94","a":38,"v":45400},{"s":"LY 1993/94","a":39,"v":45700},
{"s":"LY 1993/94","a":40,"v":46000},{"s":"LY 1993/94","a":41,"v":46300},{"s":"LY 1993/94","a":42,"v":46500},{"s":"LY 1993/94","a":43,"v":46600},{"s":"LY 1993/94","a":44,"v":46700},{"s":"LY 1993/94","a":45,"v":46700},{"s":"LY 1993/94","a":46,"v":46500},{"s":"LY 1993/94","a":47,"v":46000},{"s":"LY 1993/94","a":48,"v":45200},{"s":"LY 1993/94","a":49,"v":44200},
{"s":"LY 1993/94","a":50,"v":43000},{"s":"LY 1993/94","a":51,"v":41500},{"s":"LY 1993/94","a":52,"v":39500},{"s":"LY 1993/94","a":53,"v":37300},{"s":"LY 1993/94","a":54,"v":35000},{"s":"LY 1993/94","a":55,"v":32500},{"s":"LY 1993/94","a":56,"v":29500},{"s":"LY 1993/94","a":57,"v":26000},{"s":"LY 1993/94","a":58,"v":22300},{"s":"LY 1993/94","a":59,"v":18600},
{"s":"LY 1993/94","a":60,"v":15000},{"s":"LY 1993/94","a":61,"v":11800},{"s":"LY 1993/94","a":62,"v":8900},{"s":"LY 1993/94","a":63,"v":6600},{"s":"LY 1993/94","a":64,"v":4800},{"s":"LY 1993/94","a":65,"v":3600},{"s":"LY 1993/94","a":66,"v":2800},{"s":"LY 1993/94","a":67,"v":2200},{"s":"LY 1993/94","a":68,"v":1800},{"s":"LY 1993/94","a":69,"v":1500},
{"s":"LY 1993/94","a":70,"v":1200},{"s":"LY 1993/94","a":71,"v":1000},{"s":"LY 1993/94","a":72,"v":800},{"s":"LY 1993/94","a":73,"v":700},{"s":"LY 1993/94","a":74,"v":600},{"s":"LY 1993/94","a":75,"v":500},{"s":"LY 1993/94","a":76,"v":400},{"s":"LY 1993/94","a":77,"v":300},{"s":"LY 1993/94","a":78,"v":200},{"s":"LY 1993/94","a":79,"v":100},{"s":"LY 1993/94","a":80,"v":50},{"s":"LY 1993/94","a":81,"v":0},
{"s":"LY 1998/99","a":0,"v":60},{"s":"LY 1998/99","a":1,"v":60},{"s":"LY 1998/99","a":2,"v":60},{"s":"LY 1998/99","a":3,"v":60},{"s":"LY 1998/99","a":4,"v":60},{"s":"LY 1998/99","a":5,"v":60},{"s":"LY 1998/99","a":6,"v":70},{"s":"LY 1998/99","a":7,"v":80},{"s":"LY 1998/99","a":8,"v":100},{"s":"LY 1998/99","a":9,"v":120},
{"s":"LY 1998/99","a":10,"v":180},{"s":"LY 1998/99","a":11,"v":300},{"s":"LY 1998/99","a":12,"v":600},{"s":"LY 1998/99","a":13,"v":1100},{"s":"LY 1998/99","a":14,"v":2000},{"s":"LY 1998/99","a":15,"v":3600},{"s":"LY 1998/99","a":16,"v":6200},{"s":"LY 1998/99","a":17,"v":9500},{"s":"LY 1998/99","a":18,"v":13700},{"s":"LY 1998/99","a":19,"v":18200},
{"s":"LY 1998/99","a":20,"v":22700},{"s":"LY 1998/99","a":21,"v":27300},{"s":"LY 1998/99","a":22,"v":31800},{"s":"LY 1998/99","a":23,"v":35800},{"s":"LY 1998/99","a":24,"v":39500},{"s":"LY 1998/99","a":25,"v":42600},{"s":"LY 1998/99","a":26,"v":44800},{"s":"LY 1998/99","a":27,"v":46400},{"s":"LY 1998/99","a":28,"v":47600},{"s":"LY 1998/99","a":29,"v":48500},
{"s":"LY 1998/99","a":30,"v":49200},{"s":"LY 1998/99","a":31,"v":49700},{"s":"LY 1998/99","a":32,"v":50100},{"s":"LY 1998/99","a":33,"v":50400},{"s":"LY 1998/99","a":34,"v":50600},{"s":"LY 1998/99","a":35,"v":50800},{"s":"LY 1998/99","a":36,"v":50900},{"s":"LY 1998/99","a":37,"v":51000},{"s":"LY 1998/99","a":38,"v":51100},{"s":"LY 1998/99","a":39,"v":51300},
{"s":"LY 1998/99","a":40,"v":51500},{"s":"LY 1998/99","a":41,"v":51700},{"s":"LY 1998/99","a":42,"v":52000},{"s":"LY 1998/99","a":43,"v":52400},{"s":"LY 1998/99","a":44,"v":52800},{"s":"LY 1998/99","a":45,"v":53100},{"s":"LY 1998/99","a":46,"v":53200},{"s":"LY 1998/99","a":47,"v":53100},{"s":"LY 1998/99","a":48,"v":52700},{"s":"LY 1998/99","a":49,"v":52000},
{"s":"LY 1998/99","a":50,"v":51000},{"s":"LY 1998/99","a":51,"v":49800},{"s":"LY 1998/99","a":52,"v":47900},{"s":"LY 1998/99","a":53,"v":45800},{"s":"LY 1998/99","a":54,"v":43200},{"s":"LY 1998/99","a":55,"v":40200},{"s":"LY 1998/99","a":56,"v":36800},{"s":"LY 1998/99","a":57,"v":33200},{"s":"LY 1998/99","a":58,"v":29400},{"s":"LY 1998/99","a":59,"v":25500},
{"s":"LY 1998/99","a":60,"v":21600},{"s":"LY 1998/99","a":61,"v":17900},{"s":"LY 1998/99","a":62,"v":14600},{"s":"LY 1998/99","a":63,"v":11600},{"s":"LY 1998/99","a":64,"v":9000},{"s":"LY 1998/99","a":65,"v":6900},{"s":"LY 1998/99","a":66,"v":5200},{"s":"LY 1998/99","a":67,"v":4000},{"s":"LY 1998/99","a":68,"v":3200},{"s":"LY 1998/99","a":69,"v":2700},
{"s":"LY 1998/99","a":70,"v":2300},{"s":"LY 1998/99","a":71,"v":2000},{"s":"LY 1998/99","a":72,"v":1800},{"s":"LY 1998/99","a":73,"v":1600},{"s":"LY 1998/99","a":74,"v":1400},{"s":"LY 1998/99","a":75,"v":1200},{"s":"LY 1998/99","a":76,"v":1000},{"s":"LY 1998/99","a":77,"v":800},{"s":"LY 1998/99","a":78,"v":600},{"s":"LY 1998/99","a":79,"v":450},
{"s":"LY 1998/99","a":80,"v":300},{"s":"LY 1998/99","a":81,"v":200},{"s":"LY 1998/99","a":82,"v":100},{"s":"LY 1998/99","a":83,"v":50},{"s":"LY 1998/99","a":84,"v":0},{"s":"LY 1998/99","a":85,"v":0},
{"s":"LY 2003/04","a":0,"v":80},{"s":"LY 2003/04","a":1,"v":80},{"s":"LY 2003/04","a":2,"v":80},{"s":"LY 2003/04","a":3,"v":80},{"s":"LY 2003/04","a":4,"v":80},{"s":"LY 2003/04","a":5,"v":80},{"s":"LY 2003/04","a":6,"v":100},{"s":"LY 2003/04","a":7,"v":100},{"s":"LY 2003/04","a":8,"v":120},{"s":"LY 2003/04","a":9,"v":150},
{"s":"LY 2003/04","a":10,"v":200},{"s":"LY 2003/04","a":11,"v":300},{"s":"LY 2003/04","a":12,"v":600},{"s":"LY 2003/04","a":13,"v":1000},{"s":"LY 2003/04","a":14,"v":1900},{"s":"LY 2003/04","a":15,"v":3500},{"s":"LY 2003/04","a":16,"v":6100},{"s":"LY 2003/04","a":17,"v":9400},{"s":"LY 2003/04","a":18,"v":13700},{"s":"LY 2003/04","a":19,"v":18300},
{"s":"LY 2003/04","a":20,"v":23000},{"s":"LY 2003/04","a":21,"v":28000},{"s":"LY 2003/04","a":22,"v":33000},{"s":"LY 2003/04","a":23,"v":38000},{"s":"LY 2003/04","a":24,"v":43000},{"s":"LY 2003/04","a":25,"v":47000},{"s":"LY 2003/04","a":26,"v":50000},{"s":"LY 2003/04","a":27,"v":52300},{"s":"LY 2003/04","a":28,"v":53300},{"s":"LY 2003/04","a":29,"v":53700},
{"s":"LY 2003/04","a":30,"v":53400},{"s":"LY 2003/04","a":31,"v":53100},{"s":"LY 2003/04","a":32,"v":53200},{"s":"LY 2003/04","a":33,"v":53600},{"s":"LY 2003/04","a":34,"v":54200},{"s":"LY 2003/04","a":35,"v":55000},{"s":"LY 2003/04","a":36,"v":55900},{"s":"LY 2003/04","a":37,"v":56700},{"s":"LY 2003/04","a":38,"v":57200},{"s":"LY 2003/04","a":39,"v":57600},
{"s":"LY 2003/04","a":40,"v":57800},{"s":"LY 2003/04","a":41,"v":57900},{"s":"LY 2003/04","a":42,"v":58000},{"s":"LY 2003/04","a":43,"v":58000},{"s":"LY 2003/04","a":44,"v":58100},{"s":"LY 2003/04","a":45,"v":58100},{"s":"LY 2003/04","a":46,"v":58000},{"s":"LY 2003/04","a":47,"v":57900},{"s":"LY 2003/04","a":48,"v":57600},{"s":"LY 2003/04","a":49,"v":57300},
{"s":"LY 2003/04","a":50,"v":57000},{"s":"LY 2003/04","a":51,"v":56800},{"s":"LY 2003/04","a":52,"v":56000},{"s":"LY 2003/04","a":53,"v":53500},{"s":"LY 2003/04","a":54,"v":50000},{"s":"LY 2003/04","a":55,"v":46000},{"s":"LY 2003/04","a":56,"v":41500},{"s":"LY 2003/04","a":57,"v":37000},{"s":"LY 2003/04","a":58,"v":33000},{"s":"LY 2003/04","a":59,"v":29500},
{"s":"LY 2003/04","a":60,"v":26000},{"s":"LY 2003/04","a":61,"v":22500},{"s":"LY 2003/04","a":62,"v":19000},{"s":"LY 2003/04","a":63,"v":16000},{"s":"LY 2003/04","a":64,"v":13200},{"s":"LY 2003/04","a":65,"v":10600},{"s":"LY 2003/04","a":66,"v":8200},{"s":"LY 2003/04","a":67,"v":6200},{"s":"LY 2003/04","a":68,"v":4600},{"s":"LY 2003/04","a":69,"v":3400},
{"s":"LY 2003/04","a":70,"v":2500},{"s":"LY 2003/04","a":71,"v":1800},{"s":"LY 2003/04","a":72,"v":1300},{"s":"LY 2003/04","a":73,"v":1000},{"s":"LY 2003/04","a":74,"v":800},{"s":"LY 2003/04","a":75,"v":600},{"s":"LY 2003/04","a":76,"v":500},{"s":"LY 2003/04","a":77,"v":400},{"s":"LY 2003/04","a":78,"v":300},{"s":"LY 2003/04","a":79,"v":250},
{"s":"LY 2003/04","a":80,"v":200},{"s":"LY 2003/04","a":81,"v":150},{"s":"LY 2003/04","a":82,"v":100},{"s":"LY 2003/04","a":83,"v":0},
{"s":"LY 2009/10","a":0,"v":100},{"s":"LY 2009/10","a":1,"v":100},{"s":"LY 2009/10","a":2,"v":100},{"s":"LY 2009/10","a":3,"v":100},{"s":"LY 2009/10","a":4,"v":100},{"s":"LY 2009/10","a":5,"v":100},{"s":"LY 2009/10","a":6,"v":100},{"s":"LY 2009/10","a":7,"v":100},{"s":"LY 2009/10","a":8,"v":150},{"s":"LY 2009/10","a":9,"v":150},
{"s":"LY 2009/10","a":10,"v":200},{"s":"LY 2009/10","a":11,"v":300},{"s":"LY 2009/10","a":12,"v":550},{"s":"LY 2009/10","a":13,"v":1000},{"s":"LY 2009/10","a":14,"v":1800},{"s":"LY 2009/10","a":15,"v":3300},{"s":"LY 2009/10","a":16,"v":5800},{"s":"LY 2009/10","a":17,"v":9000},{"s":"LY 2009/10","a":18,"v":13500},{"s":"LY 2009/10","a":19,"v":17500},
{"s":"LY 2009/10","a":20,"v":21800},{"s":"LY 2009/10","a":21,"v":26300},{"s":"LY 2009/10","a":22,"v":31000},{"s":"LY 2009/10","a":23,"v":35600},{"s":"LY 2009/10","a":24,"v":39600},{"s":"LY 2009/10","a":25,"v":43500},{"s":"LY 2009/10","a":26,"v":46600},{"s":"LY 2009/10","a":27,"v":49200},{"s":"LY 2009/10","a":28,"v":50900},{"s":"LY 2009/10","a":29,"v":52100},
{"s":"LY 2009/10","a":30,"v":53300},{"s":"LY 2009/10","a":31,"v":54400},{"s":"LY 2009/10","a":32,"v":55500},{"s":"LY 2009/10","a":33,"v":56600},{"s":"LY 2009/10","a":34,"v":57800},{"s":"LY 2009/10","a":35,"v":58400},{"s":"LY 2009/10","a":36,"v":58600},{"s":"LY 2009/10","a":37,"v":58500},{"s":"LY 2009/10","a":38,"v":58100},{"s":"LY 2009/10","a":39,"v":57800},
{"s":"LY 2009/10","a":40,"v":57800},{"s":"LY 2009/10","a":41,"v":58000},{"s":"LY 2009/10","a":42,"v":58200},{"s":"LY 2009/10","a":43,"v":58400},{"s":"LY 2009/10","a":44,"v":58500},{"s":"LY 2009/10","a":45,"v":58600},{"s":"LY 2009/10","a":46,"v":58300},{"s":"LY 2009/10","a":47,"v":57800},{"s":"LY 2009/10","a":48,"v":57300},{"s":"LY 2009/10","a":49,"v":56900},
{"s":"LY 2009/10","a":50,"v":56600},{"s":"LY 2009/10","a":51,"v":56500},{"s":"LY 2009/10","a":52,"v":56900},{"s":"LY 2009/10","a":53,"v":56700},{"s":"LY 2009/10","a":54,"v":55800},{"s":"LY 2009/10","a":55,"v":54300},{"s":"LY 2009/10","a":56,"v":51800},{"s":"LY 2009/10","a":57,"v":48600},{"s":"LY 2009/10","a":58,"v":45000},{"s":"LY 2009/10","a":59,"v":41700},
{"s":"LY 2009/10","a":60,"v":38500},{"s":"LY 2009/10","a":61,"v":35400},{"s":"LY 2009/10","a":62,"v":32300},{"s":"LY 2009/10","a":63,"v":29300},{"s":"LY 2009/10","a":64,"v":25800},{"s":"LY 2009/10","a":65,"v":21700},{"s":"LY 2009/10","a":66,"v":17300},{"s":"LY 2009/10","a":67,"v":13300},{"s":"LY 2009/10","a":68,"v":10000},{"s":"LY 2009/10","a":69,"v":7400},
{"s":"LY 2009/10","a":70,"v":5600},{"s":"LY 2009/10","a":71,"v":4200},{"s":"LY 2009/10","a":72,"v":3200},{"s":"LY 2009/10","a":73,"v":2400},{"s":"LY 2009/10","a":74,"v":1900},{"s":"LY 2009/10","a":75,"v":1500},{"s":"LY 2009/10","a":76,"v":1300},{"s":"LY 2009/10","a":77,"v":1300},{"s":"LY 2009/10","a":78,"v":1300},{"s":"LY 2009/10","a":79,"v":1200},
{"s":"LY 2009/10","a":80,"v":1100},{"s":"LY 2009/10","a":81,"v":1000},{"s":"LY 2009/10","a":82,"v":800},{"s":"LY 2009/10","a":83,"v":600},{"s":"LY 2009/10","a":84,"v":300},{"s":"LY 2009/10","a":85,"v":0}
]},
"mark": {"type": "line", "strokeWidth": 3},
"encoding": {
  "x": {"field": "a", "type": "quantitative",
    "scale": {"domain": [-0.5, 90.5], "nice": false, "zero": false},
    "axis": {"values": [0,3,6,9,12,15,18,21,24,27,30,33,36,39,42,45,48,51,54,57,60,63,66,69,72,75,78,81,84,87,90],
      "labelExpr": "datum.value == 90 ? '90+' : datum.label",
      "labelAngle": 270, "labelFlush": false, "labelOverlap": false, "title": null, "grid": false, "ticks": false,
      "domainColor": "#d9d9d9", "domainWidth": 1, "labelColor": "#595959", "labelFontSize": 12, "labelPadding": 6}},
  "y": {"field": "v", "type": "quantitative",
    "scale": {"domain": [0, 70000], "nice": false},
    "axis": {"values": [0,10000,20000,30000,40000,50000,60000,70000],
      "labelExpr": "datum.value == 0 ? '0' : (datum.value/1000) + ' 000'",
      "title": "Per capita, 2009/10 dollars", "grid": true, "gridColor": "#d9d9d9", "domain": false, "ticks": false,
      "labelPadding": 11, "labelColor": "#595959", "labelFontSize": 12,
      "titleColor": "#595959", "titleFontWeight": "normal", "titleFontSize": 16,
      "titleX": -97, "titleY": 251, "titleAngle": 270, "titleAlign": "center", "titleBaseline": "middle"}},
  "color": {"field": "s", "type": "nominal",
    "scale": {"domain": ["C 1981/82","C 1988/89","C 1993/94","C 1998/99","C 2003/04","C 2009/10","LY 1981/82","LY 1988/89","LY 1993/94","LY 1998/99","LY 2003/04","LY 2009/10"],
      "range": ["#d9d9d9","#b5b5b5","#858585","#6a6a6a","#3d3d3d","#1a1a1a","#d9d9d9","#bdbdbd","#a3a3a3","#7a7a7a","#555555","#1a1a1a"]},
    "legend": {"orient": "none", "legendX": -124, "legendY": 533, "direction": "horizontal", "columns": 6, "title": null,
      "symbolType": "stroke", "symbolSize": 2000, "symbolStrokeWidth": 3, "labelFontSize": 12.5, "labelColor": "#595959",
      "columnPadding": 20, "rowPadding": 6, "labelOffset": 5}},
  "strokeDash": {"field": "s", "type": "nominal",
    "scale": {"domain": ["C 1981/82","C 1988/89","C 1993/94","C 1998/99","C 2003/04","C 2009/10","LY 1981/82","LY 1988/89","LY 1993/94","LY 1998/99","LY 2003/04","LY 2009/10"],
      "range": [[2.5,4.5],[9,5],[2.5,4.5],[9,5],[2.5,4.5],[9,5],[18,9],[1,0],[18,9],[1,0],[18,9],[1,0]]},
    "legend": {"orient": "none", "legendX": -124, "legendY": 533, "direction": "horizontal", "columns": 6, "title": null,
      "symbolType": "stroke", "symbolSize": 2000, "symbolStrokeWidth": 3, "labelFontSize": 12.5, "labelColor": "#595959",
      "columnPadding": 20, "rowPadding": 6, "labelOffset": 5}}
}
}
